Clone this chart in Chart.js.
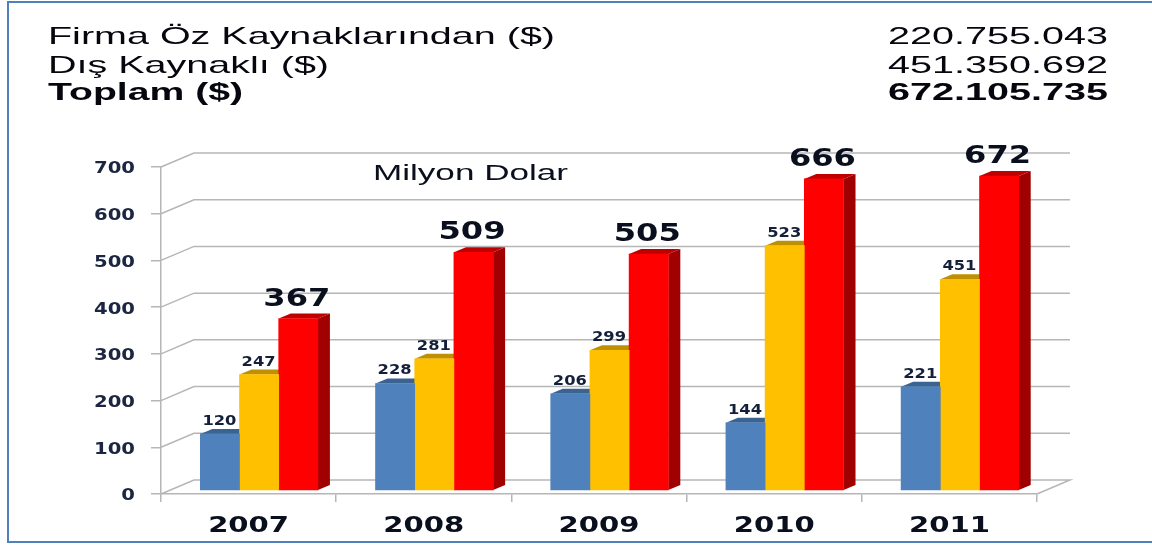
<!DOCTYPE html>
<html lang="tr">
<head>
<meta charset="utf-8">
<style>
html,body{margin:0;padding:0;background:#fff;overflow:hidden}
#wrap{position:relative;width:1152px;height:545px}
#frame{position:absolute;left:7px;top:1px;right:0;height:538px;border:solid #4F81BD;border-width:2px 0 2px 2px;pointer-events:none}
canvas{position:absolute;left:0;top:0;filter:blur(.35px)}
</style>
<script src="https://cdn.jsdelivr.net/npm/chart.js@4"></script>
</head>
<body>
<div id="wrap"><canvas id="c" width="1152" height="545"></canvas><div id="frame"></div></div>
<script>
const categories = ['2007','2008','2009','2010','2011'];
const seriesOwn = [120,228,206,144,221];
const seriesExternal = [247,281,299,523,451];
const seriesTotal = [367,509,505,666,672];
const yTickStep = 100;
const yMax = 700;
const headerLabels = ['Firma Öz Kaynaklarından ($)','Dış Kaynaklı ($)','Toplam ($)'];
const headerAmounts = ['220.755.043','451.350.692','672.105.735'];
const unitLabel = 'Milyon Dolar';

const palette = [
  {front:'#4F81BD',top:'#3A6391',side:'#3A6391'},
  {front:'#FFC000',top:'#BF9000',side:'#BF9000'},
  {front:'#FF0000',top:'#C00000',side:'#A00000'}
];
const WALL = {dx:33,dy:14};
const BAR = {dx:12,dy:5};
const GRID = '#B6B6B6';
const INK = '#14203A';

let forced = null;
const stretchBySize = {15:{sx:1.31,dy:2.5},21:{sx:1.385,dy:0}};
function patchText(ctx){
  const orig = ctx.fillText.bind(ctx);
  ctx.fillText = function(t,x,y,m){
    const s = /([\d.]+)px/.exec(ctx.font);
    const rule = (s && stretchBySize[parseFloat(s[1])]) || {sx:1,dy:0};
    const sx = forced != null ? forced : rule.sx;
    const dy = forced != null ? 0 : rule.dy;
    ctx.save();
    ctx.translate(x*(1-sx),dy);
    ctx.scale(sx,1);
    if(m===undefined) orig(t,x,y); else orig(t,x,y,m);
    ctx.restore();
  };
}
function fitted(ctx,text,x,y,font,width,align,color){
  ctx.save();
  ctx.font = font;
  ctx.fillStyle = color;
  ctx.textAlign = align;
  ctx.textBaseline = 'alphabetic';
  forced = width/ctx.measureText(text).width;
  ctx.fillText(text,x,y);
  forced = null;
  ctx.restore();
}
function poly(ctx,pts,fill){
  ctx.beginPath();
  pts.forEach((p,i)=> i?ctx.lineTo(p[0],p[1]):ctx.moveTo(p[0],p[1]));
  ctx.closePath();
  ctx.fillStyle = fill;
  ctx.fill();
}

const depthPlugin = {
  id:'depth',
  beforeInit(chart){ patchText(chart.ctx); },
  beforeDatasetsDraw(chart){
    const ctx = chart.ctx, a = chart.chartArea, y = chart.scales.y;
    ctx.save();
    ctx.strokeStyle = GRID;
    ctx.lineWidth = 1.5;
    y.ticks.forEach(t=>{
      const py = y.getPixelForValue(t.value);
      ctx.beginPath();
      ctx.moveTo(a.left,py);
      ctx.lineTo(a.left+WALL.dx,py-WALL.dy);
      ctx.lineTo(a.right+WALL.dx,py-WALL.dy);
      if(t.value===0) ctx.lineTo(a.right,py);
      ctx.stroke();
    });
    ctx.restore();
    chart.data.datasets.forEach((ds,i)=>{
      chart.getDatasetMeta(i).data.forEach(b=>{
        const l=b.x-b.width/2, r=b.x+b.width/2;
        poly(ctx,[[r,b.y],[r+BAR.dx,b.y-BAR.dy],[r+BAR.dx,b.base-BAR.dy],[r,b.base]],palette[i].side);
        poly(ctx,[[l,b.y],[r,b.y],[r+BAR.dx,b.y-BAR.dy],[l+BAR.dx,b.y-BAR.dy]],palette[i].top);
      });
    });
  },
  afterDatasetsDraw(chart){
    const ctx = chart.ctx;
    chart.data.datasets.forEach((ds,i)=>{
      const big = i===2;
      chart.getDatasetMeta(i).data.forEach((b,j)=>{
        const t = String(ds.data[j].y);
        const ly = b.y-(big?13:9);
        fitted(ctx,t,b.x-(big?1.5:0.5),ly,big?'bold 25px "DejaVu Sans"':'bold 13.5px "DejaVu Sans"',big?67:34,'center',big?'#0A0F1E':INK);
      });
    });
    const F = '"Liberation Sans"';
    const leftW = [507,281,195], rightW = [220,220,220], base = [44,72.5,100];
    headerLabels.forEach((t,i)=>{
      const w = i===2?'bold ':'';
      fitted(ctx,t,48,base[i],w+'24px '+F,leftW[i],'left','#06060E');
      fitted(ctx,headerAmounts[i],1108,base[i],w+'24px '+F,rightW[i],'right','#06060E');
    });
    fitted(ctx,unitLabel,373,180,'22px '+F,195,'left','#0A0F1E');
  }
};

new Chart(document.getElementById('c'),{
  type:'bar',
  data:{
    labels:categories,
    datasets:[seriesOwn,seriesExternal,seriesTotal].map((vals,i)=>({
      label:['Firma Öz Kaynakları','Dış Kaynaklı','Toplam'][i],
      data:vals.map((v,k)=>({x:k,y:v})),
      backgroundColor:palette[i].front,
      xAxisID:'xb',
      yAxisID:'yb',
      barThickness:39.2,
      borderWidth:0
    }))
  },
  options:{
    responsive:false,
    animation:false,
    events:[],
    layout:{padding:{top:167,right:115,left:0,bottom:0}},
    plugins:{legend:{display:false},title:{display:false},tooltip:{enabled:false}},
    scales:{
      x:{
        type:'category',
        offset:true,
        afterFit(s){s.height=51;},
        grid:{display:true,offset:true,drawOnChartArea:false,tickLength:8,color:GRID,lineWidth:1.5},
        border:{display:true,color:GRID,width:1.5},
        ticks:{padding:12,color:'#0A0F1E',font:{family:'DejaVu Sans',weight:'bold',size:21},maxRotation:0}
      },
      y:{
        type:'linear',
        min:0,max:yMax,
        afterFit(s){s.width=161;},
        grid:{display:true,drawOnChartArea:false,tickLength:10,color:GRID,lineWidth:1.5},
        border:{display:true,color:GRID,width:1.5},
        ticks:{stepSize:yTickStep,padding:16,color:'#1C2640',font:{family:'DejaVu Sans',weight:'bold',size:15}}
      },
      xb:{type:'linear',display:false,offset:false,grid:{offset:false},min:-0.56,max:4.44},
      yb:{type:'linear',display:false,min:-8.57,max:yMax-8.57}
    }
  },
  plugins:[depthPlugin]
});
</script>
</body>
</html>
